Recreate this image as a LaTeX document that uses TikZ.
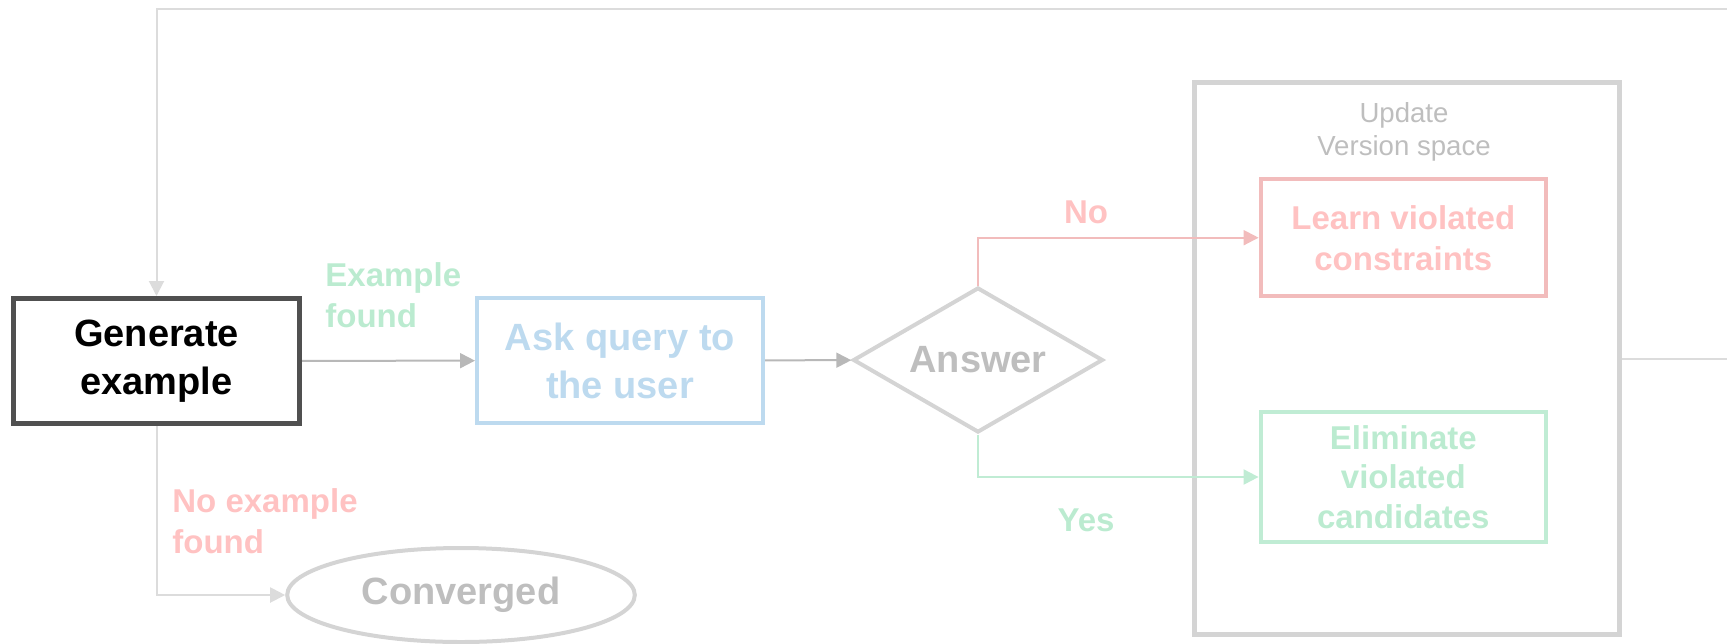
\documentclass[tikz,border=0pt]{standalone}
\usepackage{fontspec}
\setmainfont{Liberation Sans}
\usepackage{tikz}
\usetikzlibrary{arrows.meta,positioning,calc,shapes.geometric}
\definecolor{ink}{HTML}{505050}
\definecolor{wire}{HTML}{B8B8B8}
\definecolor{pale}{HTML}{DCDCDC}
\definecolor{frame}{HTML}{D4D4D4}
\definecolor{mute}{HTML}{BEBEBE}
\definecolor{sky}{HTML}{BDDAEF}
\definecolor{rose}{HTML}{F2BCBC}
\definecolor{rosetxt}{HTML}{FFC2C2}
\definecolor{mint}{HTML}{C0ECD4}
\definecolor{minttxt}{HTML}{BBEBD0}

\begin{document}
\begin{tikzpicture}[x=0.5pt,y=-0.5pt,
  big/.style={font=\fontsize{19}{24}\selectfont\bfseries},
  mid/.style={font=\fontsize{16.5}{20.5}\selectfont\bfseries},
  blk/.style={draw,line width=2pt,inner sep=0,align=center,big},
  arr/.style={-{Triangle[length=7.5pt,width=7.5pt]},line width=1pt}]
  \useasboundingbox (0,0) rectangle (1727,643);
  % main chain
  \node[blk,draw=ink,line width=2.5pt,minimum width=143pt,minimum height=62.5pt] (gen) at (156.5,361) {Generate\\example};
  \node[blk,draw=sky,text=sky,minimum width=143pt,minimum height=62.5pt] (ask) at (620,360.5) {Ask query to\\the user};
  \node[blk,diamond,aspect=1.72,draw=frame,text=mute,minimum width=125pt,minimum height=72.5pt] (ans) at (978,360) {Answer};
  \node[blk,ellipse,draw=frame,text=mute,minimum width=173.8pt,minimum height=47pt] (conv) at (461,595) {Converged};
  % version space
  \node[draw=frame,line width=2.5pt,minimum width=212.5pt,minimum height=276pt,inner sep=0] (upd) at (1407,358.5) {};
  \node[anchor=north,inner sep=0,align=center,text=mute,font=\fontsize{13.8}{16.4}\selectfont] (updlbl) at (1404,102.5) {Update\\Version space};
  \node[blk,draw=rose,text=rosetxt,mid,minimum width=142.7pt,minimum height=58.7pt] (learn) at (1403.3,237.7) {Learn violated\\constraints};
  \node[blk,draw=mint,text=minttxt,mid,minimum width=142.7pt,minimum height=65pt,font=\fontsize{16.5}{19.8}\selectfont\bfseries] (elim) at (1403.3,477) {Eliminate\\violated\\candidates};
  % labels
  \node[anchor=north west,inner sep=0,align=left,mid,text=minttxt] (lfound) at (325,262) {Example\\found};
  \node[anchor=north west,inner sep=0,align=left,mid,text=rosetxt] (lnone) at (172,488) {No example\\found};
  \node[anchor=base,inner sep=0,mid,text=rosetxt] (lno) at (1086,223) {No};
  \node[anchor=base,inner sep=0,mid,text=minttxt] (lyes) at (1086,531) {Yes};
  \coordinate (topr) at (1790,8.5);
  % connectors
  \draw[arr,wire] (gen) -- (ask);
  \draw[arr,wire] (ask) -- (ans);
  \draw[arr,rose] (ans.north) |- (learn.west);
  \draw[arr,mint] (ans.south) |- (elim.west);
  \draw[arr,pale] (gen.south) |- (conv.west);
  \draw[arr,pale] (upd.east) -| (topr) -| (gen.north);
\end{tikzpicture}
\end{document}
